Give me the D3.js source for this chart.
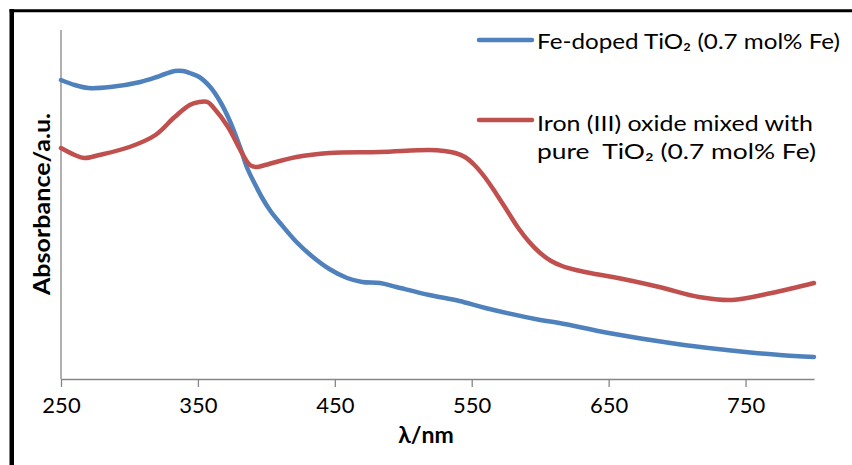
<!DOCTYPE html>
<html>
<head>
<meta charset="utf-8">
<script src="https://cdn.jsdelivr.net/npm/d3@7"></script>
<style>
  html, body { margin: 0; padding: 0; background: #fff; }
  svg { display: block; font-family: Lato, "Open Sans", sans-serif; }
  text { white-space: pre; }
</style>
</head>
<body>
<svg id="chart" width="852" height="465"></svg>
<script>
// Wavelength (nm) sampling for each spectrum
const feDopedWavelength = [250, 260, 270, 286, 308, 320, 326, 333, 339, 344, 351, 359, 366, 373, 381, 386, 392, 397, 403, 410, 422, 434, 446, 459, 470, 483, 495, 519, 541, 560, 600, 614, 650, 700, 736, 750, 775, 800];
const feDopedAbsorbance = [2.99, 2.94, 2.91, 2.92, 2.97, 3.02, 3.05, 3.08, 3.08, 3.06, 3.02, 2.92, 2.78, 2.59, 2.31, 2.11, 1.94, 1.81, 1.68, 1.56, 1.37, 1.22, 1.10, 1.01, 0.97, 0.96, 0.92, 0.84, 0.78, 0.71, 0.59, 0.56, 0.46, 0.35, 0.29, 0.27, 0.24, 0.22];

const mixedWavelength = [250, 260, 267, 278, 300, 319, 333, 344, 351, 357, 361, 372, 381, 388, 393, 399, 422, 446, 483, 519, 530, 538, 545, 552, 560, 568, 576, 584, 592, 600, 608, 616, 626, 640, 653, 687, 716, 740, 769, 800];
const mixedAbsorbance = [2.31, 2.24, 2.21, 2.24, 2.32, 2.44, 2.62, 2.74, 2.77, 2.77, 2.72, 2.52, 2.29, 2.14, 2.12, 2.14, 2.22, 2.26, 2.27, 2.29, 2.28, 2.26, 2.22, 2.14, 2.01, 1.85, 1.68, 1.51, 1.37, 1.26, 1.18, 1.13, 1.09, 1.05, 1.02, 0.92, 0.82, 0.79, 0.86, 0.96];

const xTickValues = [250, 350, 450, 550, 650, 750];
const seriesNames = ["Fe-doped TiO₂ (0.7 mol% Fe)", "Iron (III) oxide mixed with", "pure  TiO₂ (0.7 mol% Fe)"];
const seriesColors = ["#4F81BD", "#C0504D"];

const svg = d3.select("#chart");

// outer frame (left and top edges)
svg.append("line").attr("x1", 11.75).attr("x2", 11.75).attr("y1", 9).attr("y2", 465)
  .attr("stroke", "#000").attr("stroke-width", 4.5);
svg.append("line").attr("x1", 9.5).attr("x2", 852).attr("y1", 10.75).attr("y2", 10.75)
  .attr("stroke", "#000").attr("stroke-width", 3);

const x = d3.scaleLinear().domain([250, 800]).range([61, 814]);
const y = d3.scaleLinear().domain([0, 3.49]).range([379, 30]);

// axes
const xAxis = svg.append("g").attr("transform", "translate(0,379)")
  .call(d3.axisBottom(x).tickValues(xTickValues).tickSize(8).tickSizeOuter(0).tickPadding(10));
xAxis.select(".domain").attr("stroke", "#868686").attr("stroke-width", 1.3);
xAxis.selectAll(".tick line").attr("stroke", "#868686").attr("stroke-width", 1.3);
xAxis.selectAll(".tick text").attr("font-size", 22).attr("fill", "#000")
  .attr("font-family", "Lato, sans-serif");

svg.append("line").attr("x1", 61).attr("x2", 61).attr("y1", y(3.49)).attr("y2", 379)
  .attr("stroke", "#868686").attr("stroke-width", 1.3);

// axis titles
svg.append("text").attr("x", 426).attr("y", 443).attr("text-anchor", "middle")
  .attr("font-size", 23).attr("font-weight", "bold").text("λ/nm");
svg.append("text").attr("transform", "translate(50,204) rotate(-90)")
  .attr("text-anchor", "middle").attr("font-size", 23).attr("font-weight", "bold")
  .attr("textLength", 182).attr("lengthAdjust", "spacingAndGlyphs")
  .text("Absorbance/a.u.");

// spectra
const line = d3.line().x(d => x(d[0])).y(d => y(d[1])).curve(d3.curveCatmullRom.alpha(0.5));
const series = [
  d3.zip(feDopedWavelength, feDopedAbsorbance),
  d3.zip(mixedWavelength, mixedAbsorbance)
];
series.forEach((pts, i) => {
  svg.append("path").datum(pts).attr("d", line)
    .attr("fill", "none").attr("stroke", seriesColors[i])
    .attr("stroke-width", 4.5).attr("stroke-linecap", "round").attr("stroke-linejoin", "round");
});

// legend
const legend = svg.append("g");
const legendRows = [
  { color: seriesColors[0], lineY: 40, texts: [[seriesNames[0], 49, 303]] },
  { color: seriesColors[1], lineY: 120, texts: [[seriesNames[1], 131, 276], [seriesNames[2], 159, 279]] }
];
legendRows.forEach(r => {
  legend.append("line").attr("x1", 479).attr("x2", 532).attr("y1", r.lineY).attr("y2", r.lineY)
    .attr("stroke", r.color).attr("stroke-width", 4.5).attr("stroke-linecap", "round");
  r.texts.forEach(([t, by, len]) => {
    legend.append("text").attr("x", 537).attr("y", by).attr("font-size", 22)
      .attr("textLength", len).attr("lengthAdjust", "spacingAndGlyphs")
      .attr("fill", "#000").text(t);
  });
});
</script>
</body>
</html>
